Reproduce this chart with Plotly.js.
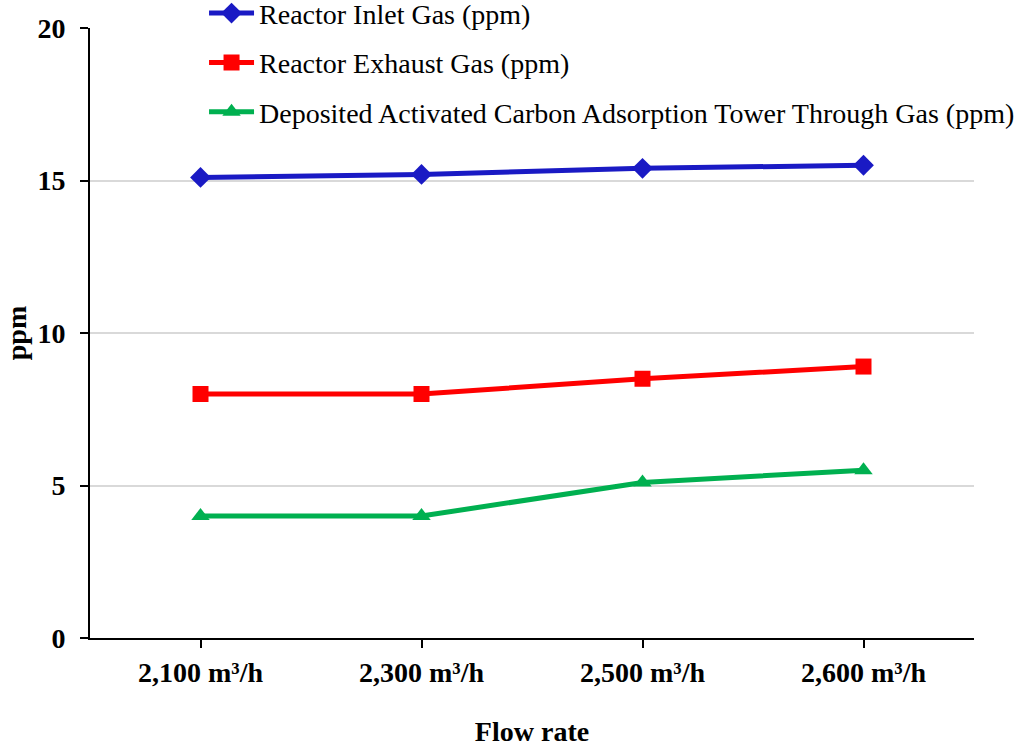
<!DOCTYPE html>
<html>
<head>
<meta charset="utf-8">
<script src="https://cdn.plot.ly/plotly-3.0.1.min.js"></script>
<style>
  html, body { margin: 0; padding: 0; background: #fff; }
  #chart { width: 1033px; height: 747px; }
</style>
</head>
<body>
<div id="chart"></div>
<script>
// Flow rate categories and measured concentrations (ppm)
const flowRates = ['2,100 m³/h', '2,300 m³/h', '2,500 m³/h', '2,600 m³/h'];
const inletGas = [15.1, 15.2, 15.4, 15.5];
const exhaustGas = [8.0, 8.0, 8.5, 8.9];
const towerGas = [4.0, 4.0, 5.1, 5.5];
const yTicks = [0, 5, 10, 15, 20];

const serif = "'Liberation Serif', 'Times New Roman', serif";

const traces = [
  {
    x: flowRates, y: inletGas, name: 'Reactor Inlet Gas (ppm)',
    mode: 'lines+markers', legendgroup: 'a',
    line: { color: '#1a1ac4', width: 5 },
    marker: { symbol: 'diamond', size: 16, color: '#1a1ac4' }
  },
  {
    x: flowRates, y: exhaustGas, name: 'Reactor Exhaust Gas (ppm)',
    mode: 'lines+markers', legendgroup: 'b',
    line: { color: '#ff0000', width: 5 },
    marker: { symbol: 'square', size: 16, color: '#ff0000' }
  },
  {
    x: flowRates, y: towerGas, name: 'Deposited Activated Carbon Adsorption Tower Through Gas (ppm)',
    mode: 'lines+markers', legendgroup: 'c',
    line: { color: '#00b050', width: 5 },
    marker: { symbol: 'triangle-up', size: 16, color: '#00b050' }
  }
];

const layout = {
  width: 1033, height: 747,
  margin: { l: 90, r: 59, t: 28, b: 109, autoexpand: false },
  paper_bgcolor: '#ffffff', plot_bgcolor: '#ffffff',
  font: { family: serif, color: '#000000' },
  showlegend: true,
  legend: {
    x: 0.129, xanchor: 'left', y: 1.065, yanchor: 'top',
    itemwidth: 45,
    bgcolor: 'rgba(0,0,0,0)', traceorder: 'grouped', tracegroupgap: 10,
    font: { family: serif, size: 28, color: '#000000' }
  },
  xaxis: {
    type: 'category', range: [-0.5, 3.5],
    showline: true, linecolor: '#000000', linewidth: 2,
    ticks: 'outside', ticklen: 8, tickwidth: 2, tickcolor: '#000000',
    showgrid: false, zeroline: false,
    tickfont: { family: serif, size: 28, color: '#000000', weight: 'bold' },
    title: { text: '<b>Flow rate</b>', font: { family: serif, size: 28, color: '#000000' }, standoff: 36 }
  },
  yaxis: {
    range: [0, 20], tickvals: yTicks, ticktext: yTicks.map(String),
    showline: true, linecolor: '#000000', linewidth: 2,
    ticks: 'outside', ticklen: 8, tickwidth: 2, tickcolor: '#000000',
    ticklabelstandoff: 9,
    showgrid: true, gridcolor: '#d9d9d9', gridwidth: 2, zeroline: false,
    tickfont: { family: serif, size: 28, color: '#000000', weight: 'bold' },
    title: { text: '<b>ppm</b>', font: { family: serif, size: 28, color: '#000000' }, standoff: 3 }
  }
};

Plotly.newPlot('chart', traces, layout, { displayModeBar: false, staticPlot: true });
</script>
</body>
</html>
